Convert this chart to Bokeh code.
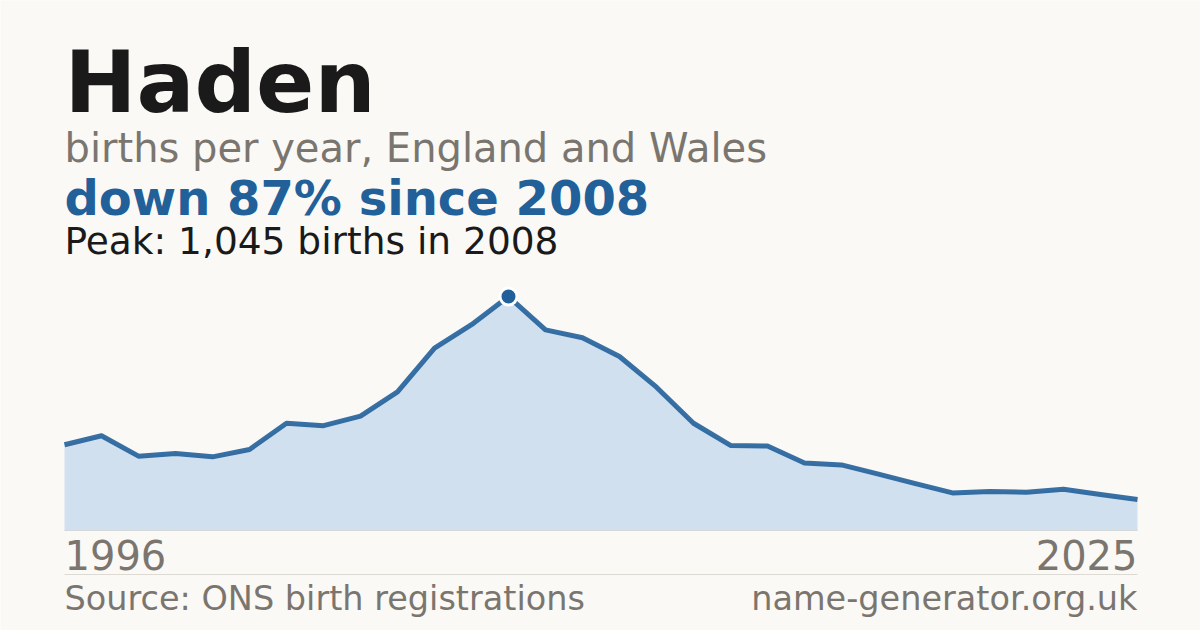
from bokeh.plotting import figure
from bokeh.models import Range1d, Label
from bokeh.embed import file_html
from bokeh.resources import INLINE

# ---- data ----
years = list(range(1996, 2026))
births = [383, 423, 332, 344, 329, 362, 479, 468, 511, 619,
          814, 919, 1045, 896, 861, 777, 640, 479, 380, 377,
          301, 293, 252, 209, 168, 174, 171, 184, 161, 138]
name = "Haden"
subtitle = "births per year, England and Wales"
source_text = "Source: ONS birth registrations"
site_text = "name-generator.org.uk"

peak_val = max(births)
peak_year = years[births.index(peak_val)]
last_val = births[-1]
change_pct = round((1 - last_val / peak_val) * 100)
headline = f"down {change_pct}% since {peak_year}"
peak_text = f"Peak: {peak_val:,} births in {peak_year}"

# ---- layout ----
W, H = 1200, 630
BG = "#FAF9F5"
BLUE = "#22609A"
FILL = "#D0E0EF"
GRAY = "#7A766F"
DARK = "#1A1A1A"
FONT = "DejaVu Sans"

PL, PR, PT, PB = 64, 1137, 296, 530  # plot area in canvas px (top-down)
ppx = (PR - PL) / (years[-1] - years[0])
ppy = (PB - PT) / peak_val
x_range = Range1d(years[0] - PL / ppx, years[-1] + (W - PR) / ppx)
y_range = Range1d(-(H - PB) / ppy, peak_val + PT / ppy)

p = figure(width=W, height=H, x_range=x_range, y_range=y_range,
           x_axis_type=None, y_axis_type=None, toolbar_location=None,
           output_backend="svg", min_border=0)
p.background_fill_color = BG
p.border_fill_color = BG
p.outline_line_color = None
p.grid.visible = False

p.varea(x=years, y1=[0] * len(years), y2=births, fill_color=FILL)
p.line(x=years, y=births, line_color=BLUE, line_width=5, line_alpha=0.9,
       line_join="round")
p.segment(x0=[years[0]], y0=[0], x1=[years[-1]], y1=[0],
          line_color="#D6D8D8", line_width=1)
p.scatter(x=[peak_year], y=[peak_val], size=17, fill_color=BLUE,
          line_color="white", line_width=3)

# separator line below the year labels
sep_y = -(574 - PB) / ppy
p.segment(x0=[years[0]], y0=[sep_y], x1=[years[-1]], y1=[sep_y],
          line_color="#DDDAD3", line_width=1)

K = 0.36  # empirical baseline shift of the renderer


def lab(text, x, baseline, size, color, bold=False, align="left"):
    y_top = baseline - K * size
    p.add_layout(Label(x=x, y=H - y_top, x_units="screen", y_units="screen",
                       text=text, text_font=FONT, text_font_size=f"{size}px",
                       text_color=color, text_align=align,
                       text_baseline="alphabetic",
                       text_font_style="bold" if bold else "normal"))


lab(name, PL, 112, 86, DARK, bold=True)
lab(subtitle, PL, 162, 40, GRAY)
lab(headline, PL, 215, 48, BLUE, bold=True)
lab(peak_text, PL, 254, 37.5, DARK)
lab(str(years[0]), PL, 569, 40, GRAY)
lab(str(years[-1]), PR, 569, 40, GRAY, align="right")
lab(source_text, PL, 610, 33.5, GRAY)
lab(site_text, PR, 610, 33.5, GRAY, align="right")

html = file_html(p, INLINE)
html = html.replace("<body>", f'<body style="background-color:{BG};">', 1)
open("out.html", "w").write(html)
